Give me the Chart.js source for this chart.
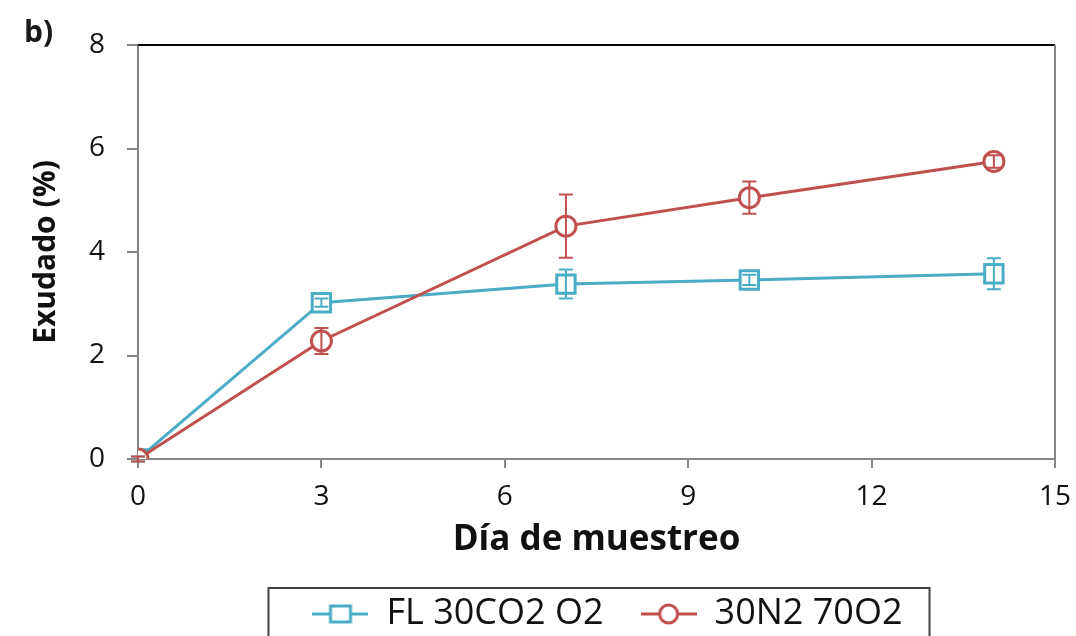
<!DOCTYPE html>
<html>
<head>
<meta charset="utf-8">
<script src="https://cdn.jsdelivr.net/npm/chart.js@4.4.1/dist/chart.umd.min.js"></script>
<style>
  html, body { margin: 0; background: #fff; }
  #contenedor { width: 1076px; height: 636px; }
</style>
</head>
<body>
<div id="contenedor"><canvas id="MiGrafica"></canvas></div>
<script>
// Datos
const dias = [0, 3, 7, 10, 14];
const exudadoFL = [0, 3.02, 3.38, 3.46, 3.58];
const errorFL = [0.05, 0.08, 0.28, 0.1, 0.3];
const exudadoN2 = [0, 2.28, 4.5, 5.05, 5.75];
const errorN2 = [0.05, 0.25, 0.61, 0.31, 0.12];
const ticksX = [0, 3, 6, 9, 12, 15];
const ticksY = [0, 2, 4, 6, 8];
const nombres = ["FL 30CO2 O2", "30N2 70O2"];

const azul = "#4BACC6";
const rojo = "#C0504D";
const gris = "#868686";
const fuente = "'Open Sans', sans-serif";

// icono de leyenda: linea con marcador
function iconoLeyenda(color, estilo) {
  const c = document.createElement("canvas");
  c.width = 56; c.height = 28;
  const ctx = c.getContext("2d");
  ctx.strokeStyle = color;
  ctx.lineWidth = 3;
  ctx.beginPath(); ctx.moveTo(0, 14); ctx.lineTo(56, 14); ctx.stroke();
  ctx.fillStyle = "#fff";
  ctx.lineWidth = 3;
  ctx.beginPath();
  if (estilo === "rect") ctx.rect(18, 6, 20, 16);
  else ctx.arc(28, 14, 9, 0, Math.PI * 2);
  ctx.fill(); ctx.stroke();
  return c;
}
const iconos = [iconoLeyenda(azul, "rect"), iconoLeyenda(rojo, "circle")];

const puntos = (ys) => dias.map((d, i) => ({ x: d, y: ys[i] }));

// barras de error, marco, caja de leyenda y etiqueta "b)"
const extras = {
  id: "extras",
  afterLayout(chart) {
    // la leyenda del original esta desplazada a la derecha
    chart.legend.left += 80;
    chart.legend.right += 80;
  },
  afterDatasetsDraw(chart) {
    const ctx = chart.ctx;
    const x = chart.scales.x, y = chart.scales.y;
    const series = [[exudadoFL, errorFL, azul], [exudadoN2, errorN2, rojo]];
    ctx.save();
    ctx.lineWidth = 2;
    series.forEach(([vals, errs, color]) => {
      ctx.strokeStyle = color;
      dias.forEach((d, i) => {
        const px = x.getPixelForValue(d);
        const y1 = y.getPixelForValue(vals[i] + errs[i]);
        const y2 = y.getPixelForValue(vals[i] - errs[i]);
        ctx.beginPath();
        ctx.moveTo(px, y1); ctx.lineTo(px, y2);
        ctx.moveTo(px - 7, y1); ctx.lineTo(px + 7, y1);
        ctx.moveTo(px - 7, y2); ctx.lineTo(px + 7, y2);
        ctx.stroke();
      });
    });
    ctx.restore();
  },
  afterDraw(chart) {
    const ctx = chart.ctx;
    const a = chart.chartArea;
    ctx.save();
    ctx.strokeStyle = "#000";
    ctx.lineWidth = 2;
    ctx.beginPath();
    ctx.moveTo(a.left, a.top); ctx.lineTo(a.right, a.top);
    ctx.stroke();
    ctx.strokeStyle = gris;
    ctx.beginPath();
    ctx.moveTo(a.right, a.top); ctx.lineTo(a.right, a.bottom);
    ctx.stroke();
    const cajas = chart.legend.legendHitBoxes;
    if (cajas.length) {
      const primero = cajas[0], ultimo = cajas[cajas.length - 1];
      const cy = primero.top + primero.height / 2;
      ctx.strokeStyle = "#404040";
      ctx.lineWidth = 2;
      ctx.strokeRect(primero.left - 44, cy - 26, ultimo.left + ultimo.width + 71 - primero.left, 90);
    }
    ctx.fillStyle = "#1a1a1a";
    ctx.font = "bold 30px " + fuente;
    ctx.textBaseline = "alphabetic";
    ctx.fillText("b)", 24, 42);
    ctx.restore();
  }
};

const miCanvas = document.getElementById("MiGrafica").getContext("2d");

new Chart(miCanvas, {
  type: "line",
  data: {
    datasets: [{
      label: nombres[0],
      data: puntos(exudadoFL),
      borderColor: azul,
      backgroundColor: "#fff",
      borderWidth: 3,
      pointStyle: "rect",
      pointRadius: 13,
      pointBorderWidth: 3,
      pointBackgroundColor: "#fff",
      pointBorderColor: azul,
      order: 1
    }, {
      label: nombres[1],
      data: puntos(exudadoN2),
      borderColor: rojo,
      backgroundColor: "#fff",
      borderWidth: 3,
      pointStyle: "circle",
      pointRadius: 10,
      pointBorderWidth: 3,
      pointBackgroundColor: "#fff",
      pointBorderColor: rojo,
      order: 0
    }]
  },
  options: {
    responsive: true,
    maintainAspectRatio: false,
    animation: false,
    layout: { padding: { left: 0, right: 21, top: 45, bottom: -6 } },
    plugins: {
      tooltip: { enabled: false },
      legend: {
        position: "bottom",
        labels: {
          usePointStyle: true,
          pointStyleWidth: 56,
          padding: 37,
          color: "#111",
          font: { family: fuente, size: 36 },
          generateLabels(chart) {
            const items = Chart.defaults.plugins.legend.labels.generateLabels(chart);
            items.sort((p, q) => p.datasetIndex - q.datasetIndex);
            items.forEach(it => { it.pointStyle = iconos[it.datasetIndex]; });
            return items;
          }
        }
      }
    },
    scales: {
      x: {
        type: "linear",
        min: 0, max: 15,
        afterBuildTicks: (s) => { s.ticks = ticksX.map(v => ({ value: v })); },
        afterFit: (s) => { s.height = 100; s.paddingRight = 0; s.paddingLeft = 0; },
        border: { color: gris, width: 2 },
        grid: { drawOnChartArea: false, color: gris, lineWidth: 2, tickLength: 9 },
        ticks: { color: "#111", padding: 12, font: { family: fuente, size: 28 } },
        title: { display: true, text: "Día de muestreo", color: "#111", padding: { top: 0, bottom: -2 }, font: { family: fuente, size: 35, weight: "bold" } }
      },
      y: {
        min: 0, max: 8,
        afterBuildTicks: (s) => { s.ticks = ticksY.map(v => ({ value: v })); },
        afterFit: (s) => { s.width = 138; },
        border: { color: gris, width: 2 },
        grid: { drawOnChartArea: false, color: gris, lineWidth: 2, tickLength: 11 },
        ticks: { color: "#111", padding: 22, font: { family: fuente, size: 28 } },
        title: { display: true, text: "Exudado (%)", color: "#111", padding: 28, font: { family: fuente, size: 30, weight: "bold" } }
      }
    }
  },
  plugins: [extras]
});
</script>
</body>
</html>
